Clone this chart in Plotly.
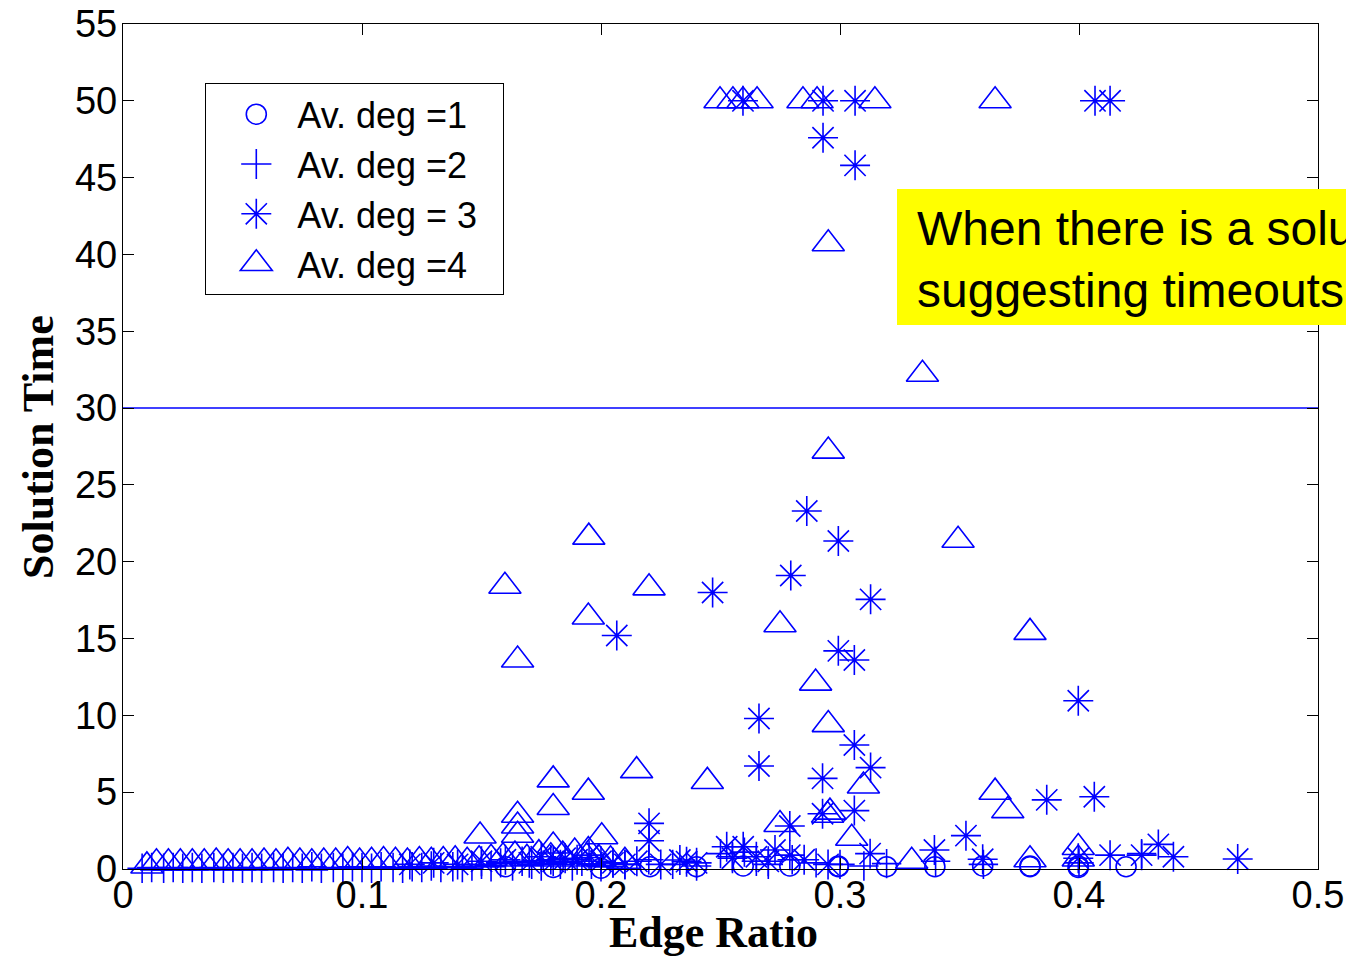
import plotly.graph_objects as go

# ---------------- data ----------------
# Av. deg = 1 (circles)
deg1_x = [0.160, 0.180, 0.200, 0.2205, 0.240, 0.2595,
          0.279, 0.2993, 0.2993, 0.3195, 0.3397, 0.3597, 0.3795, 0.3795, 0.3997, 0.3997, 0.4197]
deg1_y = [0.15, 0.10, 0.05, 0.15, 0.15, 0.20,
          0.20, 0.20, 0.15, 0.15, 0.15, 0.20, 0.15, 0.20, 0.20, 0.10, 0.15]

# Av. deg = 2 (plus)
deg2_x = [0.008, 0.012, 0.017, 0.021, 0.025, 0.029, 0.033, 0.038, 0.042, 0.046, 0.050, 0.054,
          0.058, 0.063, 0.067, 0.071, 0.075, 0.079, 0.083, 0.088, 0.092, 0.096, 0.100, 0.104,
          0.108, 0.113, 0.117, 0.121, 0.125, 0.129, 0.133, 0.138, 0.142, 0.146, 0.150, 0.154,
          0.158, 0.163, 0.167, 0.171, 0.175, 0.179, 0.183, 0.188, 0.192, 0.196, 0.200, 0.205,
          0.210, 0.220, 0.230, 0.240, 0.250, 0.255, 0.260, 0.265, 0.270, 0.280, 0.290, 0.300,
          0.310, 0.3195, 0.340, 0.360, 0.400, 0.4262]
deg2_y = [0.05, 0.10, 0.05, 0.10, 0.05, 0.10, 0.05, 0.10, 0.05, 0.10, 0.05, 0.10,
          0.05, 0.10, 0.05, 0.10, 0.05, 0.15, 0.05, 0.10, 0.05, 0.15, 0.10, 0.05,
          0.15, 0.10, 0.05, 0.15, 0.10, 0.20, 0.10, 0.15, 0.10, 0.20, 0.30, 0.15,
          0.40, 0.20, 0.50, 0.30, 0.20, 0.60, 0.30, 0.20, 0.50, 0.30, 0.15, 0.40,
          0.30, 0.60, 0.30, 0.20, 1.00, 0.80, 1.10, 0.50, 0.30, 0.60, 0.40, 0.30,
          0.20, 0.35, 0.50, 0.30, 0.40, 1.00]

# Av. deg = 3 (asterisks)
deg3_x = [0.2594, 0.2929, 0.3063, 0.4067, 0.4130, 0.2929, 0.3063,
          0.2861, 0.2993, 0.2794, 0.2467, 0.3128, 0.2066, 0.2993, 0.3060, 0.3997, 0.2661,
          0.3060, 0.2661, 0.3128, 0.2927, 0.4064, 0.3865, 0.3060, 0.2927, 0.2201, 0.2790,
          0.3527, 0.2201, 0.4332, 0.2526, 0.2595, 0.3395, 0.2728, 0.3126, 0.4130, 0.4262,
          0.2790, 0.4395, 0.3997, 0.4664, 0.3597, 0.2330, 0.2358,
          0.120, 0.130, 0.140, 0.150, 0.160, 0.170, 0.175, 0.180, 0.185, 0.190, 0.195,
          0.200, 0.205, 0.210, 0.215, 0.225, 0.240, 0.255, 0.265, 0.270, 0.285, 0.295]
deg3_y = [50.0, 50.0, 50.0, 50.0, 50.0, 47.6, 45.8,
          23.3, 21.35, 19.1, 18.0, 17.55, 15.2, 14.2, 13.6, 10.95, 9.8,
          8.07, 6.7, 6.6, 5.9, 4.7, 4.5, 3.8, 3.6, 2.97, 2.8,
          2.17, 1.84, 1.6, 1.45, 1.45, 1.24, 1.24, 1.0, 0.9, 0.9,
          0.9, 0.8, 0.7, 0.65, 0.63, 0.59, 0.48,
          0.3, 0.4, 0.3, 0.5, 0.6, 0.4, 0.8, 0.5, 0.7, 0.6, 0.9,
          0.5, 0.4, 0.3, 0.5, 0.3, 0.4, 0.7, 0.8, 0.5, 0.6, 0.3]

# Av. deg = 4 (triangles)
deg4_x = [0.2498, 0.2552, 0.2594, 0.2653, 0.2845, 0.2904, 0.3146, 0.3649,
          0.2951, 0.3345, 0.2951, 0.1949, 0.3494, 0.1598, 0.2201, 0.1947, 0.2749, 0.3795,
          0.1651, 0.2898, 0.2951, 0.2149, 0.1800, 0.2445, 0.3098, 0.3649, 0.1947, 0.1800,
          0.3702, 0.2948, 0.2958, 0.1651, 0.1651, 0.2749, 0.1494, 0.1651, 0.2003, 0.3049,
          0.1800, 0.3997, 0.1947, 0.3300, 0.3795, 0.3997,
          0.010, 0.014, 0.019, 0.024, 0.029, 0.034, 0.039, 0.044, 0.049, 0.054, 0.059,
          0.064, 0.069, 0.074, 0.079, 0.084, 0.089, 0.094, 0.099, 0.104, 0.109, 0.114,
          0.119, 0.124, 0.129, 0.134, 0.139, 0.144, 0.149, 0.154, 0.159, 0.164, 0.169,
          0.174, 0.179, 0.184, 0.189, 0.194, 0.199, 0.204, 0.210]
deg4_y = [50.0, 50.0, 50.0, 50.0, 50.0, 50.0, 50.0, 50.0,
          40.7, 32.2, 27.2, 21.6, 21.4, 18.4, 18.3, 16.4, 15.9, 15.4,
          13.6, 12.1, 9.4, 6.4, 5.8, 5.7, 5.4, 5.0, 5.0, 4.0,
          3.8, 3.5, 3.7, 3.5, 2.8, 2.9, 2.15, 2.2, 2.1, 2.0,
          1.5, 1.4, 1.2, 0.5, 0.6, 0.65,
          0.2, 0.4, 0.4, 0.4, 0.4, 0.4, 0.45, 0.4, 0.4, 0.4, 0.45,
          0.4, 0.5, 0.45, 0.4, 0.45, 0.45, 0.55, 0.45, 0.5, 0.55, 0.5,
          0.45, 0.55, 0.5, 0.55, 0.6, 0.5, 0.6, 0.7, 0.8, 0.9, 0.7,
          1.0, 0.8, 0.9, 1.1, 0.8, 0.7, 0.6, 0.5]

THRESHOLD = 30
X_RANGE = [0, 0.5]
Y_RANGE = [0, 55]
x_ticks = [0, 0.1, 0.2, 0.3, 0.4, 0.5]
x_ticktext = ["0", "0.1", "0.2", "0.3", "0.4", "0.5"]
y_ticks = [0, 5, 10, 15, 20, 25, 30, 35, 40, 45, 50, 55]

names = ["Av. deg =1", "Av. deg =2", "Av. deg = 3", "Av. deg =4"]

BLUE = "rgb(0,0,255)"
W, H = 1346, 956
ML, MR, MT, MB = 123, 28, 24, 87
pw = W - ML - MR
ph = H - MT - MB


def px_x(p):
    return (p - ML) / pw


def px_y(p):
    return (H - MB - p) / ph


fig = go.Figure()
series = [
    (deg1_x, deg1_y, "circle-open", 20),
    (deg2_x, deg2_y, "cross-thin-open", 21),
    (deg3_x, deg3_y, "asterisk-open", 25),
    (deg4_x, deg4_y, "triangle-up-open", 28),
]
for (xs, ys, sym, sz), nm in zip(series, names):
    fig.add_trace(go.Scatter(
        x=xs, y=ys, mode="markers", name=nm + "\u00a0\u00a0", cliponaxis=False,
        marker=dict(symbol=sym, size=sz, color=BLUE,
                    line=dict(color=BLUE, width=1.6)),
    ))

fig.add_shape(type="line", xref="x", yref="y", x0=X_RANGE[0], x1=X_RANGE[1],
              y0=THRESHOLD, y1=THRESHOLD, line=dict(color=BLUE, width=1.5), layer="below")

# yellow call-out box
fig.add_shape(type="rect", xref="paper", yref="paper",
              x0=px_x(897), x1=1.3, y0=px_y(325), y1=px_y(189),
              fillcolor="#ffff00", line=dict(width=0), layer="above")
fig.add_annotation(xref="paper", yref="paper", x=px_x(915), y=px_y(259),
                   xanchor="left", yanchor="middle", align="left", showarrow=False,
                   text="When there is a solution<br>suggesting timeouts",
                   font=dict(family="Liberation Sans, Arial", size=48, color="black"))

title_font = dict(family="Liberation Serif, Times New Roman", size=44, color="black",
                  weight="bold")
fig.add_annotation(xref="paper", yref="paper", x=px_x(713), y=px_y(932),
                   xanchor="center", yanchor="middle", showarrow=False,
                   text="Edge Ratio", font=title_font)
fig.add_annotation(xref="paper", yref="paper", x=px_x(38), y=px_y(447),
                   xanchor="center", yanchor="middle", showarrow=False, textangle=-90,
                   text="Solution Time", font=title_font)

axis_common = dict(showline=True, linecolor="black", linewidth=1.3, mirror="ticks",
                   ticks="inside", ticklen=11, tickwidth=1.3, tickcolor="black",
                   showgrid=False, zeroline=False, automargin=False,
                   tickfont=dict(family="Liberation Sans, Arial", size=38, color="black"))

fig.update_xaxes(range=X_RANGE, tickvals=x_ticks, ticktext=x_ticktext,
                 ticklabelstandoff=-8, **axis_common)
fig.update_yaxes(range=Y_RANGE, tickvals=y_ticks, ticklabelstandoff=-3, **axis_common)

fig.update_layout(
    width=W, height=H,
    margin=dict(l=ML, r=MR, t=MT, b=MB, pad=0, autoexpand=False),
    plot_bgcolor="white", paper_bgcolor="white",
    showlegend=True,
    legend=dict(x=px_x(205), y=px_y(83), xanchor="left", yanchor="top",
                bgcolor="white", bordercolor="black", borderwidth=1.3,
                itemwidth=81, tracegroupgap=0,
                font=dict(family="Liberation Sans, Arial", size=36, color="black")),
)

post = """
var gd = document.getElementById('{plot_id}');
document.body.style.margin = '0';
document.body.style.overflow = 'hidden';
var scales = [1.25, 1.35, 1.56, 1.73];
function enlargeLegend() {
  var tr = gd.querySelectorAll('.legend .traces');
  tr.forEach(function(t, i) {
    t.querySelectorAll('.legendpoints path').forEach(function(p) {
      var o = p.getAttribute('data-orig-tr');
      if (o === null) { o = p.getAttribute('transform') || ''; p.setAttribute('data-orig-tr', o); }
      p.setAttribute('transform', o + ' translate(4.5,0) scale(' + scales[i] + ')');
      p.style.vectorEffect = 'non-scaling-stroke';
    });
  });
}
enlargeLegend();
if (gd.on) { gd.on('plotly_afterplot', enlargeLegend); }
setTimeout(enlargeLegend, 200);
setTimeout(enlargeLegend, 800);
"""

fig.write_html("out.html", config={"displayModeBar": False}, post_script=post)
